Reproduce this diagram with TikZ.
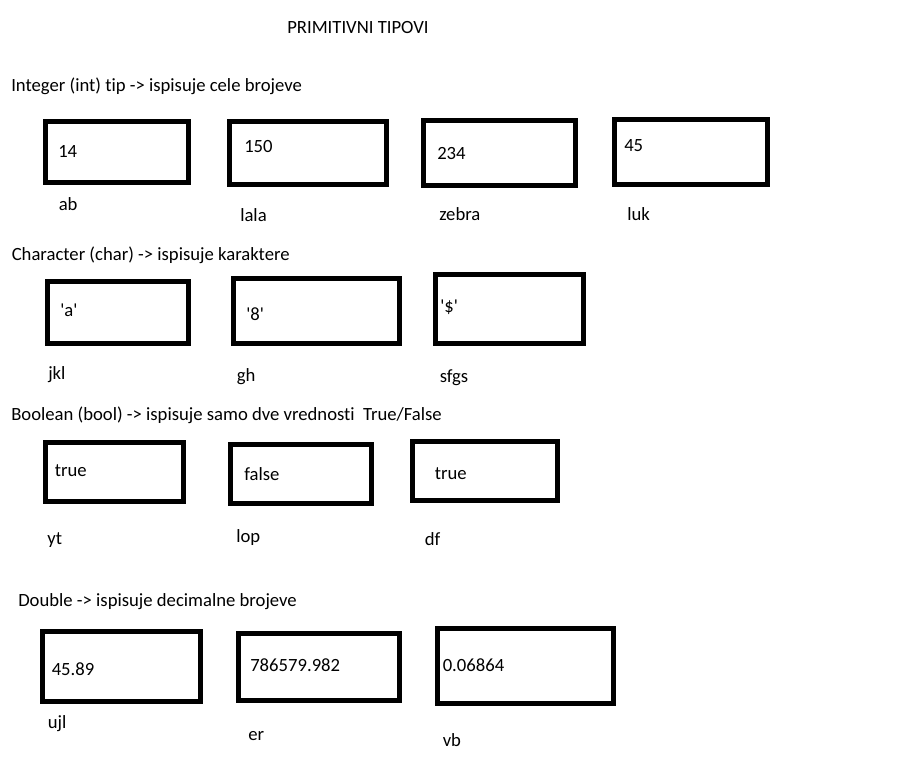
\documentclass[tikz,border=0pt]{standalone}
\usepackage{fontspec}
\setmainfont{Carlito}[Ligatures={NoCommon}]
\usepackage{tikz}

\tikzset{
	varbox/.style={shape=rectangle,draw=black,line width=3.75pt,inner sep=0pt},
	txt/.style={anchor=base west,inner sep=0pt,font=\fontsize{14pt}{16pt}\selectfont}
}

\begin{document}
\begin{tikzpicture}[x=0.75pt,y=-0.75pt]
	
	\useasboundingbox (0,0) rectangle (902,770);
	
	\node[txt] (title) at (287,34) {PRIMITIVNI TIPOVI};
	
	% int
	\node[txt] (int) at (11,92) {Integer (int) tip -> ispisuje cele brojeve};
	\node[varbox,minimum width=142.5pt*0.75,minimum height=61pt*0.75] (ab) at (117,152) {};
	\node[varbox,minimum width=157pt*0.75,minimum height=62pt*0.75] (lala) at (307.5,153) {};
	\node[varbox,minimum width=152pt*0.75,minimum height=65pt*0.75] (zebra) at (499.5,153) {};
	\node[varbox,minimum width=153pt*0.75,minimum height=65pt*0.75] (luk) at (691,152) {};
	\node[txt] (ab-val) at (58,157) {14};
	\node[txt] (lala-val) at (244,152.5) {150};
	\node[txt] (zebra-val) at (437,160) {234};
	\node[txt] (luk-val) at (624,151.5) {45};
	\node[txt] (ab-name) at (58.5,210.5) {ab};
	\node[txt] (lala-name) at (240,221.5) {lala};
	\node[txt] (zebra-name) at (439,220) {zebra};
	\node[txt] (luk-name) at (627,220) {luk};
	
	% char
	\node[txt] (char) at (11.5,260) {Character (char) -> ispisuje karaktere};
	\node[varbox,minimum width=141pt*0.75,minimum height=61.5pt*0.75] (jkl) at (118,312.5) {};
	\node[varbox,minimum width=166pt*0.75,minimum height=65.5pt*0.75] (gh) at (316.5,311) {};
	\node[varbox,minimum width=148pt*0.75,minimum height=69pt*0.75] (sfgs) at (509,309) {};
	\node[txt] (jkl-val) at (60,316) {\textquotesingle a\textquotesingle};
	\node[txt] (gh-val) at (246,320.5) {\textquotesingle 8\textquotesingle};
	\node[txt] (sfgs-val) at (440,312.5) {\textquotesingle\$\textquotesingle};
	\node[txt] (jkl-name) at (48,379) {jkl};
	\node[txt] (gh-name) at (236.5,381.5) {gh};
	\node[txt] (sfgs-name) at (439.5,382.5) {sfgs};
	
	% bool
	\node[txt] (bool) at (11,420.5) {Boolean (bool) -> ispisuje samo dve vrednosti\ \ True/False};
	\node[varbox,minimum width=138pt*0.75,minimum height=59.5pt*0.75] (yt) at (114,472) {};
	\node[varbox,minimum width=141.5pt*0.75,minimum height=59pt*0.75] (lop) at (301,474) {};
	\node[varbox,minimum width=145pt*0.75,minimum height=59.5pt*0.75] (df) at (485,471) {};
	\node[txt] (yt-val) at (54.5,476) {true};
	\node[txt] (lop-val) at (244,480) {false};
	\node[txt] (df-val) at (434.5,479) {true};
	\node[txt] (yt-name) at (47,544.5) {yt};
	\node[txt] (lop-name) at (236,542.5) {lop};
	\node[txt] (df-name) at (424.5,545) {df};
	
	% double
	\node[txt] (double) at (18,606.5) {Double -> ispisuje decimalne brojeve};
	\node[varbox,minimum width=158pt*0.75,minimum height=70pt*0.75] (ujl) at (121,666.5) {};
	\node[varbox,minimum width=161pt*0.75,minimum height=67.5pt*0.75] (er) at (318.5,667) {};
	\node[varbox,minimum width=176pt*0.75,minimum height=75pt*0.75] (vb) at (525.5,665.5) {};
	\node[txt] (ujl-val) at (51.5,675) {45.89};
	\node[txt] (er-val) at (250,671) {786579.982};
	\node[txt] (vb-val) at (442.5,671) {0.06864};
	\node[txt] (ujl-name) at (47.5,728) {ujl};
	\node[txt] (er-name) at (248,740.5) {er};
	\node[txt] (vb-name) at (442.5,746.5) {vb};
	
\end{tikzpicture}
\end{document}
